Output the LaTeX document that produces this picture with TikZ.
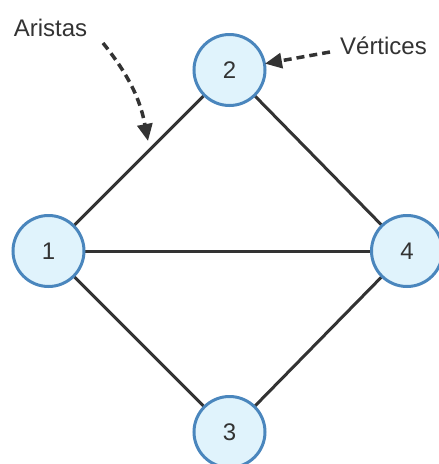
\documentclass[tikz,border=0pt]{standalone}
\usepackage{fontspec}
\setmainfont{Liberation Sans}
\usetikzlibrary{arrows.meta}

\definecolor{vfill}{HTML}{E0F3FC}
\definecolor{vline}{HTML}{4A86BD}
\definecolor{ink}{HTML}{333333}

\begin{document}
\begin{tikzpicture}[x=1pt,y=-1pt,
    every node/.style={text=ink,font=\fontsize{24}{28}\selectfont},
    vertex/.style={circle,draw=vline,fill=vfill,line width=3pt,minimum size=71pt,inner sep=0pt},
    edge/.style={draw=ink,line width=3pt},
    hint/.style={draw=ink,line width=3.5pt,dash pattern=on 8pt off 5pt,
      -{Triangle[length=17pt,width=15pt]}}]
  \useasboundingbox (0,0) rectangle (439,464);
  % edges first, vertices on top
  \coordinate (p1) at (48.5,251);
  \coordinate (p2) at (229.5,70);
  \coordinate (p3) at (229.5,432);
  \coordinate (p4) at (407,251);
  \draw[edge] (p1) -- (p2);
  \draw[edge] (p2) -- (p4);
  \draw[edge] (p1) -- (p4);
  \draw[edge] (p1) -- (p3);
  \draw[edge] (p3) -- (p4);
  \node[vertex] (v1) at (p1) {1};
  \node[vertex] (v2) at (p2) {2};
  \node[vertex] (v3) at (p3) {3};
  \node[vertex] (v4) at (p4) {4};
  % labels
  \node (aristas) at (50.5,28) {Aristas};
  \node (vertices) at (383.5,46) {Vértices};
  \coordinate (aStart) at (103,43);
  \coordinate (aEnd) at (148,141);
  \coordinate (vStart) at (330,52);
  \draw[hint] (aStart) to[bend left=14] (aEnd);
  \draw[hint,shorten >=-1pt] (vStart) -- (v2);
\end{tikzpicture}
\end{document}
